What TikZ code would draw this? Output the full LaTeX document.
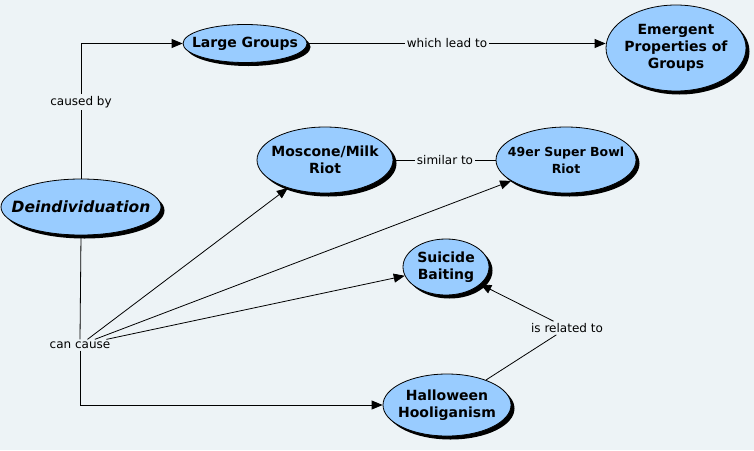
\documentclass[tikz,border=0pt]{standalone}
\usepackage{fontspec}
\setmainfont{DejaVu Sans}
\usetikzlibrary{shapes.geometric,shadows,arrows.meta}
\definecolor{bgc}{RGB}{237,243,246}
\definecolor{nodefill}{RGB}{153,204,255}
\tikzset{
  concept/.style={ellipse, draw=black, line width=0.8pt, fill=nodefill, inner sep=-30pt,
    font=\fontsize{14}{17}\selectfont\bfseries, align=center,
    drop shadow={shadow xshift=3.5pt, shadow yshift=-3.5pt, fill=black, opacity=1}},
  lbl/.style={fill=bgc, inner sep=2pt, font=\fontsize{12}{14}\selectfont},
  conn/.style={draw=black, line width=0.8pt},
  arr/.style={conn, -{Triangle[length=11pt,width=9pt]}}
}
\begin{document}
\begin{tikzpicture}[x=1pt,y=-1pt]
\fill[bgc] (0,0) rectangle (754,450);
\useasboundingbox (0,0) rectangle (754,450);

\node[concept, minimum width=160pt, minimum height=56pt, font=\fontsize{15.5}{18}\selectfont\bfseries\itshape] (de) at (81,207) {Deindividuation};
\node[concept, minimum width=124pt, minimum height=38pt] (lg) at (245,43.5) {Large Groups};
\node[concept, minimum width=140pt, minimum height=86pt] (ep) at (676,48) {Emergent\\Properties of\\Groups};
\node[concept, minimum width=136pt, minimum height=66pt] (mm) at (325,160) {Moscone/Milk\\Riot};
\node[concept, minimum width=140pt, minimum height=66pt, font=\fontsize{12.5}{17}\selectfont\bfseries] (sb) at (566,160) {49er Super Bowl\\Riot};
\node[concept, minimum width=86pt, minimum height=56pt] (su) at (446,267) {Suicide\\Baiting};
\node[concept, minimum width=128pt, minimum height=62pt] (hh) at (447,405) {Halloween\\Hooliganism};

\node[lbl] (cb) at (81,102) {caused by};
\node[lbl] (wl) at (447,43.5) {which lead to};
\node[lbl] (st) at (445,160) {similar to};
\node[lbl] (cc) at (80,345) {can cause};
\node[lbl] (ir) at (567,328) {is related to};

\draw[conn] (de.north) -- (cb.south);
\draw[arr] (cb.north) |- (lg.west);
\draw[conn] (lg.east) -- (wl.west);
\draw[arr] (wl.east) -- (wl.east -| ep.west);
\draw[conn] (mm.east) -- (st.west);
\draw[conn] (st.east) -- (st.east -| sb.west);
\draw[conn] (de.south) -- (cc.north);
\draw[arr] (cc) -- (mm);
\draw[arr] (cc) -- (sb);
\draw[arr] (cc) -- (su);
\draw[arr] (cc.south) |- (hh.west);
\draw[conn] (hh) -- (ir);
\draw[arr] (ir) -- (su);
\end{tikzpicture}
\end{document}
